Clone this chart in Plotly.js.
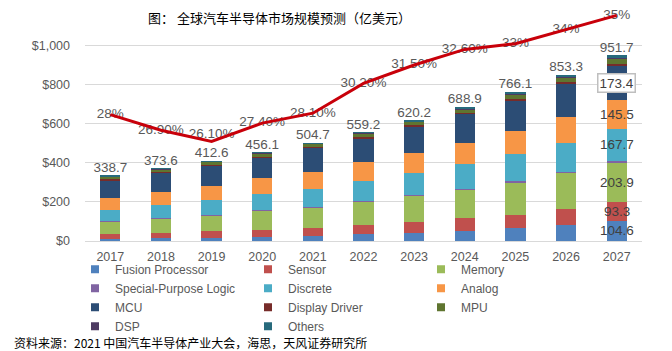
<!DOCTYPE html>
<html>
<head>
<meta charset="utf-8">
<script src="https://cdn.plot.ly/plotly-3.0.1.min.js"></script>
<style>html,body{margin:0;padding:0;background:#fff;}#chart{width:672px;height:351px;}</style>
</head>
<body>
<div id="chart"></div>
<script>
const years = ['2017','2018','2019','2020','2021','2022','2023','2024','2025','2026','2027'];
const fusionProcessor = [10,14,16,19,26,34,41,51,65,80,104.6];
const sensor = [25,27,34,38,43,49,58,65,70,85,93.3];
const memory = [62,72,79,96,101,115,130,146,163,181,203.9];
const specialPurposeLogic = [3,3,3,4,6,5,6,6,7,7,7];
const discrete = [60,70,76,83,93,104,111,125,143,147,167.7];
const analog = [58,65,74,81,87,96,104,109,116,136,145.5];
const mcu = [90.7,96.6,102.6,106.1,118.7,122.2,135.2,146.9,155.1,166.3,173.4];
const displayDriver = [7,6,6,6,6,8,8,8,10,12,10];
const mpu = [11,12,13,13,14,15,15,17,20,22,30];
const dsp = [3,3,3,4,4,4,4,5,5,5,4];
const others = [9,5,6,6,6,7,8,10,12,12,12.3];
const totals = [338.7,373.6,412.6,456.1,504.7,559.2,620.2,688.9,766.1,853.3,951.7];
const growth = [28,26.9,26.1,27.4,28.1,30.2,31.5,32.6,33,34,35];
const growthLabels = ['28%','26.90%','26.10%','27.40%','28.10%','30.20%','31.50%','32.60%','33%','34%','35%'];
const yTickVals = [0,200,400,600,800,1000];
const yTickText = ['$0','$200','$400','$600','$800','$1,000'];

const series = [
  {name:'Fusion Processor', values:fusionProcessor, color:'#4F81BD', label:true},
  {name:'Sensor', values:sensor, color:'#C0504D', label:true},
  {name:'Memory', values:memory, color:'#9BBB59', label:true},
  {name:'Special-Purpose Logic', values:specialPurposeLogic, color:'#8064A2', label:false},
  {name:'Discrete', values:discrete, color:'#4BACC6', label:true},
  {name:'Analog', values:analog, color:'#F79646', label:true},
  {name:'MCU', values:mcu, color:'#2C4D75', label:true, boxed:true},
  {name:'Display Driver', values:displayDriver, color:'#772C2A', label:false},
  {name:'MPU', values:mpu, color:'#5F7530', label:false},
  {name:'DSP', values:dsp, color:'#4D3B62', label:false},
  {name:'Others', values:others, color:'#276A7C', label:false}
];

const txtFont = {family:'Liberation Sans, Arial, sans-serif', size:13.5, color:'#595959'};
const traces = [];
series.forEach(s => {
  traces.push({type:'bar', x:years, y:s.values, name:s.name, marker:{color:s.color, line:{width:0}},
    showlegend:false});
});
// legend-only entries (small square swatches)
series.forEach(s => {
  traces.push({type:'scatter', mode:'markers', x:[null], y:[null], name:s.name,
    marker:{symbol:'square', size:8, color:s.color}, showlegend:true});
});
traces.push({type:'scatter', mode:'text', x:years, y:totals, text:totals.map(v=>v.toFixed(1)),
  textposition:'top center', textfont:txtFont, showlegend:false, cliponaxis:false});
traces.push({type:'scatter', mode:'text', x:years, y:growth, yaxis:'y2', text:growthLabels,
  textposition:growth.map((v,i)=> i===2 ? 'top center' : 'middle center'),
  textfont:txtFont, showlegend:false, cliponaxis:false});
traces.push({type:'scatter', mode:'lines', x:years, y:growth, yaxis:'y2',
  line:{color:'#C8000A', width:3}, showlegend:false});

const last = years.length - 1;
const annotations = [];
let base = 0;
series.forEach(s => {
  const v = s.values[last];
  if (s.label) {
    const a = {x:years[last], y:base + v/2, xref:'x', yref:'y', text:v.toFixed(1), showarrow:false,
      font:{family:txtFont.family, size:13.5, color:'#404040'}};
    if (s.boxed) { a.bgcolor = '#FFFFFF'; a.bordercolor = '#BFBFBF'; a.borderwidth = 1.5; a.borderpad = 1; }
    annotations.push(a);
  }
  base += v;
});
annotations.push({xref:'paper', yref:'paper', x:-0.131, y:-0.438, xanchor:'left', yanchor:'middle',
  text:'资料来源：2021 中国汽车半导体产业大会，海思，天风证券研究所', showarrow:false,
  font:{family:'Noto Sans CJK SC, sans-serif', size:12, color:'#000000'}});

const layout = {
  width:672, height:351,
  margin:{l:85, r:30, t:10, b:109.5, autoexpand:false},
  paper_bgcolor:'#FFFFFF', plot_bgcolor:'#FFFFFF',
  font:{family:'Liberation Sans, Arial, sans-serif', color:'#595959', size:12.5},
  barmode:'stack', bargap:0.6,
  title:{text:'图： 全球汽车半导体市场规模预测（亿美元）', xref:'container', yref:'container',
    x:148/672, xanchor:'left', y:1-18/351, yanchor:'middle', automargin:false,
    font:{family:'Noto Sans CJK SC, sans-serif', size:13, color:'#000000'}},
  xaxis:{range:[2016.5, 2027.5], tickvals:years, ticktext:years, showgrid:false, showline:true,
    linecolor:'#D9D9D9', linewidth:1, ticks:'', zeroline:false, tickfont:{size:12.5, color:'#595959'},
    ticklabelstandoff:4},
  yaxis:{range:[0,1184], tickvals:yTickVals, ticktext:yTickText, showgrid:true, gridcolor:'#D9D9D9',
    gridwidth:1, zeroline:false, showline:false, ticks:'', tickfont:{size:12.5, color:'#595959'},
    ticklabelstandoff:14},
  yaxis2:{overlaying:'y', side:'right', range:[19.08,35.38], visible:false, showgrid:false},
  legend:{orientation:'h', x:0, xanchor:'left', y:-0.060, yanchor:'top',
    entrywidth:138, entrywidthmode:'pixels', traceorder:'normal', indentation:-10,
    font:{size:12, color:'#595959'}, bgcolor:'rgba(0,0,0,0)'},
  annotations:annotations,
  showlegend:true
};
Plotly.newPlot('chart', traces, layout, {staticPlot:true, displayModeBar:false});
</script>
</body>
</html>
